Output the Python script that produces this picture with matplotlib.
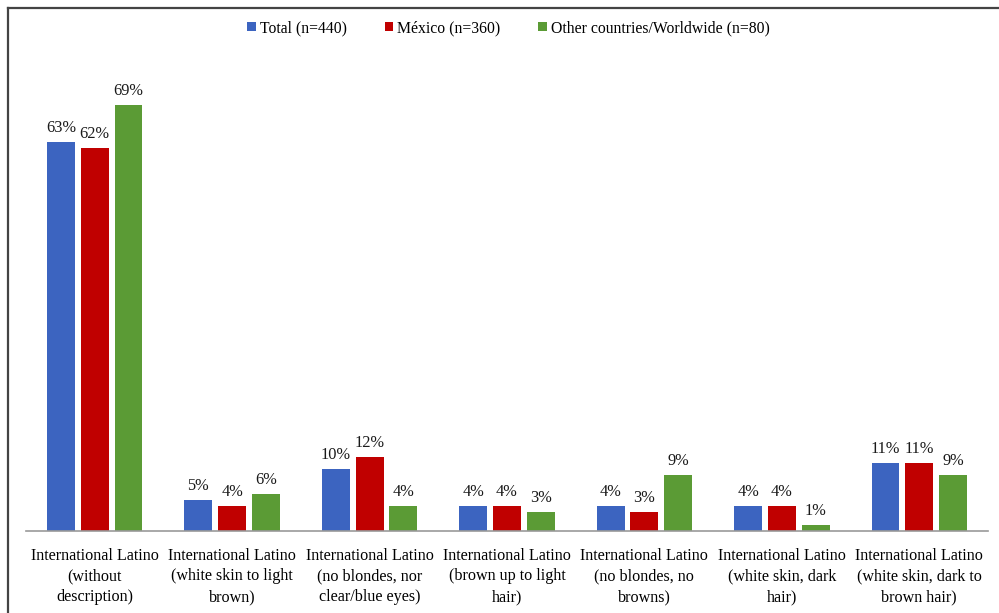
import numpy as np
import matplotlib.pyplot as plt
from matplotlib.lines import Line2D

categories = [
    "International Latino\n(without\ndescription)",
    "International Latino\n(white skin to light\nbrown)",
    "International Latino\n(no blondes, nor\nclear/blue eyes)",
    "International Latino\n(brown up to light\nhair)",
    "International Latino\n(no blondes, no\nbrowns)",
    "International Latino\n(white skin, dark\nhair)",
    "International Latino\n(white skin, dark to\nbrown hair)",
]
series_names = ["Total (n=440)", "México (n=360)", "Other countries/Worldwide (n=80)"]
total = [63, 5, 10, 4, 4, 4, 11]
mexico = [62, 4, 12, 4, 3, 4, 11]
other = [69, 6, 4, 3, 9, 1, 9]

colors = ["#3C64C0", "#C00000", "#5B9B35"]
plt.rcParams['font.family'] = ['Liberation Serif', 'DejaVu Serif']

fig = plt.figure(figsize=(9.99, 6.13), dpi=100)
ax = fig.add_axes([26/999, 1 - 531/613, 962/999, 0.806])

x = np.arange(len(categories))
w = 0.203
off = 0.246
for k, (vals, name) in enumerate(zip([total, mexico, other], series_names)):
    pos = x + (k - 1) * off
    ax.bar(pos, vals, width=w, color=colors[k], label=name)
    for p, v in zip(pos, vals):
        ax.text(p, v + 1.0, f"{v}%", ha='center', va='bottom', fontsize=11.8, color='#1a1a1a')

ax.set_xlim(-0.5, 6.5)
ax.set_ylim(0, 80)
ax.set_yticks([])
ax.set_xticks(x)
ax.set_xticklabels(categories, fontsize=11.6, linespacing=1.4)
ax.tick_params(axis='x', length=0, pad=12)
for s in ['top', 'right', 'left']:
    ax.spines[s].set_visible(False)
ax.spines['bottom'].set_color('#999999')
ax.spines['bottom'].set_linewidth(1.2)

fig.legend(loc='center', bbox_to_anchor=(0.509, 1 - 28/613), ncol=3, frameon=False,
           fontsize=11.3, handlelength=0.55, handleheight=0.55, handletextpad=0.25,
           columnspacing=2.4)

# frame around the figure (top and left edges visible)
fig.add_artist(Line2D([8/999, 1], [1 - 8/613, 1 - 8/613], color='#444444', lw=1.6))
fig.add_artist(Line2D([8/999, 8/999], [0, 1 - 8/613], color='#444444', lw=1.6))

fig.savefig("out.png", dpi=100)
